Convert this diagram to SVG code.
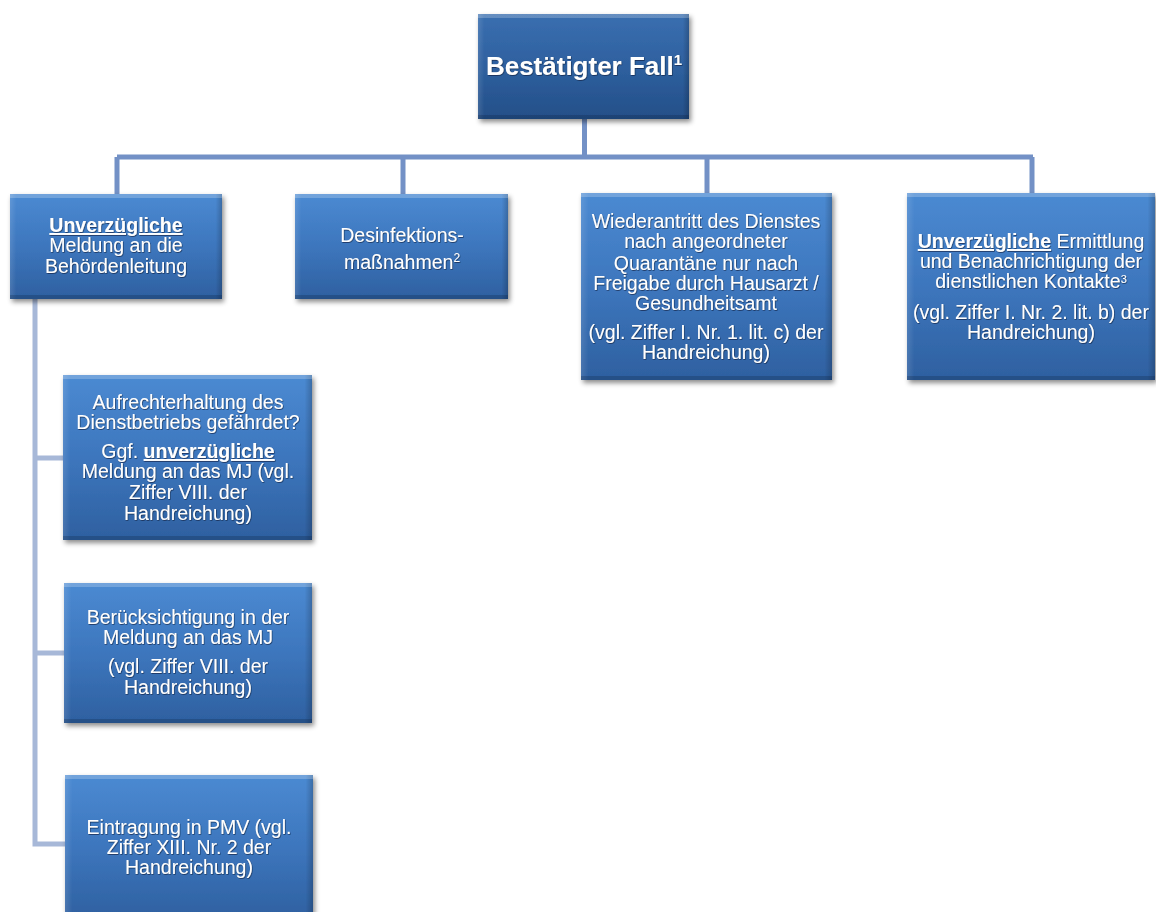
<svg xmlns="http://www.w3.org/2000/svg" width="1156" height="912" viewBox="0 0 1156 912">
<defs>
<linearGradient id="gBox" x1="0" y1="0" x2="0" y2="1">
<stop offset="0" stop-color="#4b8ad2"/>
<stop offset="0.5" stop-color="#3d76bd"/>
<stop offset="1" stop-color="#2e60a0"/>
</linearGradient>
<linearGradient id="gTop" x1="0" y1="0" x2="0" y2="1">
<stop offset="0" stop-color="#3a6fb0"/>
<stop offset="0.5" stop-color="#2e609f"/>
<stop offset="1" stop-color="#244f88"/>
</linearGradient>
<linearGradient id="gSide" x1="0" y1="0" x2="1" y2="0">
<stop offset="0" stop-color="#ffffff" stop-opacity="0.12"/>
<stop offset="0.03" stop-color="#ffffff" stop-opacity="0"/>
<stop offset="0.97" stop-color="#000000" stop-opacity="0"/>
<stop offset="1" stop-color="#000000" stop-opacity="0.2"/>
</linearGradient>
<filter id="sh" x="-10%" y="-10%" width="125%" height="130%">
<feDropShadow dx="2" dy="3" stdDeviation="2.5" flood-color="#000" flood-opacity="0.45"/>
</filter>
<filter id="tsh" x="-5%" y="-5%" width="110%" height="115%">
<feDropShadow dx="0.6" dy="0.8" stdDeviation="0.6" flood-color="#10223d" flood-opacity="0.8"/>
</filter>
</defs>
<style>
.box{fill:url(#gBox);filter:url(#sh);}
.topbox{fill:url(#gTop);filter:url(#sh);}
.side{fill:url(#gSide);}
.hl{fill:#ffffff;opacity:0.22;}
.dk{fill:#0b1f3d;opacity:0.25;}
.t{font-family:"Liberation Sans",Arial,sans-serif;font-size:19.5px;fill:#ffffff;text-anchor:middle;filter:url(#tsh);}
.title{font-family:"Liberation Sans",Arial,sans-serif;font-size:26px;font-weight:bold;fill:#ffffff;text-anchor:middle;filter:url(#tsh);}
.b{font-weight:bold;text-decoration:underline;}
.sup{font-size:12px;}
.c1{stroke:#7391c6;stroke-width:5;fill:none;}
.c2{stroke:#a7b8d8;stroke-width:5;fill:none;}
</style>
<rect width="1156" height="912" fill="#ffffff"/>
<g id="connectors">
<path class="c1" d="M584.5 119 V157 M117 157 H1033 M117 157 V194 M403 157 V194 M707 157 V193 M1032 157 V193"/>
<path class="c2" d="M35 299 V844 H65 M35 458 H63 M35 653 H64"/>
</g>
<g id="n0">
<rect class="topbox" x="478" y="14" width="211" height="105"/>
<rect class="side" x="478" y="14" width="211" height="105"/>
<rect class="hl" x="478" y="14" width="211" height="4"/>
<rect class="dk" x="478" y="115" width="211" height="4"/>
<text class="title" x="584" y="75">Bestätigter Fall<tspan font-size="15" dy="-10">1</tspan></text>
</g>
<g id="n1">
<rect class="box" x="10" y="194" width="212" height="105"/>
<rect class="side" x="10" y="194" width="212" height="105"/>
<rect class="hl" x="10" y="194" width="212" height="4"/>
<rect class="dk" x="10" y="295" width="212" height="4"/>
<text class="t" x="116" y="232"><tspan class="b">Unverzügliche</tspan></text>
<text class="t" x="116" y="252">Meldung an die</text>
<text class="t" x="116" y="273">Behördenleitung</text>
</g>
<g id="n2">
<rect class="box" x="295" y="194" width="213" height="105"/>
<rect class="side" x="295" y="194" width="213" height="105"/>
<rect class="hl" x="295" y="194" width="213" height="4"/>
<rect class="dk" x="295" y="295" width="213" height="4"/>
<text class="t" x="402" y="242">Desinfektions-</text>
<text class="t" x="402" y="269">maßnahmen<tspan class="sup" dy="-7">2</tspan></text>
</g>
<g id="n3">
<rect class="box" x="581" y="193" width="251" height="187"/>
<rect class="side" x="581" y="193" width="251" height="187"/>
<rect class="hl" x="581" y="193" width="251" height="4"/>
<rect class="dk" x="581" y="376" width="251" height="4"/>
<text class="t" x="706" y="228">Wiederantritt des Dienstes</text>
<text class="t" x="706" y="248">nach angeordneter</text>
<text class="t" x="706" y="270">Quarantäne nur nach</text>
<text class="t" x="706" y="290">Freigabe durch Hausarzt /</text>
<text class="t" x="706" y="310">Gesundheitsamt</text>
<text class="t" x="706" y="339">(vgl. Ziffer I. Nr. 1. lit. c) der</text>
<text class="t" x="706" y="359">Handreichung)</text>
</g>
<g id="n4">
<rect class="box" x="907" y="193" width="248" height="187"/>
<rect class="side" x="907" y="193" width="248" height="187"/>
<rect class="hl" x="907" y="193" width="248" height="4"/>
<rect class="dk" x="907" y="376" width="248" height="4"/>
<text class="t" x="1031" y="248"><tspan class="b">Unverzügliche</tspan> Ermittlung</text>
<text class="t" x="1031" y="268">und Benachrichtigung der</text>
<text class="t" x="1031" y="288">dienstlichen Kontakte<tspan font-size="11" dy="-5">3</tspan></text>
<text class="t" x="1031" y="319">(vgl. Ziffer I. Nr. 2. lit. b) der</text>
<text class="t" x="1031" y="339">Handreichung)</text>
</g>
<g id="n5">
<rect class="box" x="63" y="375" width="249" height="165"/>
<rect class="side" x="63" y="375" width="249" height="165"/>
<rect class="hl" x="63" y="375" width="249" height="4"/>
<rect class="dk" x="63" y="536" width="249" height="4"/>
<text class="t" x="188" y="409">Aufrechterhaltung des</text>
<text class="t" x="188" y="429">Dienstbetriebs gefährdet?</text>
<text class="t" x="188" y="458">Ggf. <tspan class="b">unverzügliche</tspan></text>
<text class="t" x="188" y="478">Meldung an das MJ (vgl.</text>
<text class="t" x="188" y="499">Ziffer VIII. der</text>
<text class="t" x="188" y="520">Handreichung)</text>
</g>
<g id="n6">
<rect class="box" x="64" y="583" width="248" height="140"/>
<rect class="side" x="64" y="583" width="248" height="140"/>
<rect class="hl" x="64" y="583" width="248" height="4"/>
<rect class="dk" x="64" y="719" width="248" height="4"/>
<text class="t" x="188" y="624">Berücksichtigung in der</text>
<text class="t" x="188" y="644">Meldung an das MJ</text>
<text class="t" x="188" y="673">(vgl. Ziffer VIII. der</text>
<text class="t" x="188" y="694">Handreichung)</text>
</g>
<g id="n7">
<rect class="box" x="65" y="775" width="248" height="145"/>
<rect class="side" x="65" y="775" width="248" height="145"/>
<rect class="hl" x="65" y="775" width="248" height="4"/>
<text class="t" x="189" y="834">Eintragung in PMV (vgl.</text>
<text class="t" x="189" y="854">Ziffer XIII. Nr. 2 der</text>
<text class="t" x="189" y="874">Handreichung)</text>
</g>
</svg>
